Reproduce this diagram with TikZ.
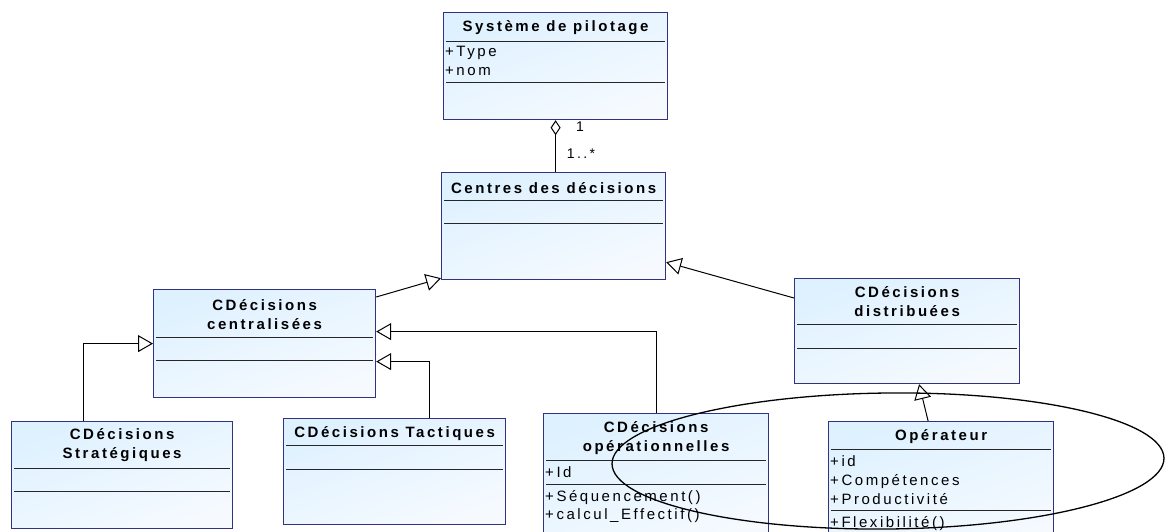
\documentclass[tikz,border=0pt]{standalone}
\usepackage{fontspec}
\setmainfont{Liberation Sans}
\newfontfamily\umlfont{Liberation Sans}[LetterSpace=17]
\usepackage{xcolor}
\usepackage{tikz}
\usetikzlibrary{arrows.meta, positioning, calc}
\definecolor{umlborder}{RGB}{50,50,130}
\definecolor{umltop}{RGB}{222,241,255}
\definecolor{umlbottom}{RGB}{246,250,255}

\begin{document}
\begin{tikzpicture}[x=1pt, y=1pt,
  classbox/.style={draw=umlborder, line width=1.2pt, top color=umltop, bottom color=umlbottom,
    shading angle=20, anchor=north west, inner sep=0pt},
  classname/.style={font=\umlfont\bfseries\fontsize{15}{19}\selectfont, align=center, inner sep=0pt},
  member/.style={font=\umlfont\fontsize{15}{19}\selectfont, anchor=west, inner sep=0pt,
    text height=10pt, text depth=3pt},
  mult/.style={font=\umlfont\fontsize{14}{16}\selectfont, inner sep=0pt},
  sepline/.style={line width=1pt, black!85},
  gen/.style={line width=1pt, -{Triangle[open, length=15pt, width=17pt]}},
  aggr/.style={line width=1pt, {Diamond[open, length=15pt, width=10pt]}-}]
  \useasboundingbox (0,0) rectangle (1165,-531);
  \clip (0,0) rectangle (1165,-531);
  % classes
  \foreach \n/\x/\y/\w/\h in {
    sys/443/12/224/107, centres/441/172/224/107, central/153/289/222/108,
    strat/11/421/221/107, tact/283/418/222/106, oper/543/413/225/130,
    distrib/794/278/225/105, operateur/828/421/225/130} {
    \node[classbox, minimum width=\w pt, minimum height=\h pt] (\n) at (\x,-\y) {};
  }
  \foreach \n/\d/\t in {
    sys/16/{Système de pilotage}, centres/16/{Centres des décisions},
    central/25.5/{CDécisions\\centralisées}, strat/24.5/{CDécisions\\Stratégiques},
    tact/16/{CDécisions Tactiques}, oper/25/{CDécisions\\opérationnelles},
    distrib/24/{CDécisions\\distribuées}, operateur/16/{Opérateur}} {
    \node[classname] (\n-name) at ([yshift=-\d pt]\n.north) {\t};
  }
  \foreach \n/\a/\b in {
    sys/29/70, centres/28/51, central/48/71, strat/47/70,
    tact/27/51, oper/47/71, distrib/46/70, operateur/28/89} {
    \draw[sepline] ([xshift=3pt, yshift=-\a pt]\n.north west) -- ([xshift=-3pt, yshift=-\a pt]\n.north east);
    \draw[sepline] ([xshift=3pt, yshift=-\b pt]\n.north west) -- ([xshift=-3pt, yshift=-\b pt]\n.north east);
  }
  % attributes and operations
  \foreach \n/\d/\t in {
    sys/41/+Type, sys/60/+nom,
    oper/61/+Id, oper/85/+Séquencement(), oper/103/+calcul\_Effectif(),
    operateur/42/+id, operateur/61/+Compétences, operateur/80/+Productivité,
    operateur/103/+Flexibilité()} {
    \node[member] (\n-m\d) at ([xshift=2pt, yshift=-\d pt]\n.north west) {\t};
  }
  % aggregation
  \draw[aggr] (sys.south) -- (sys.south |- centres.north);
  \node[mult] (m-one) at (580,-127) {1};
  \node[mult] (m-many) at (581,-154) {1..*};
  % generalizations
  \draw[gen] ([yshift=-8pt]central.north east) -- ([yshift=2pt]centres.south west);
  \draw[gen] ([yshift=-20pt]distrib.north west) -- ([yshift=18pt]centres.south east);
  \draw[gen] ([xshift=72pt]strat.north west) |- (central.west);
  \draw[gen] ([xshift=146pt]tact.north west) |- ([yshift=-18pt]central.east);
  \draw[gen] (oper.north) |- ([yshift=12pt]central.east);
  \draw[gen] ([xshift=-13pt]operateur.north) -- ([xshift=12pt]distrib.south);
  % hand-drawn ellipse
  \draw[line width=1.3pt, rotate around={0.6:(888,-461)}] (888,-461) ellipse [x radius=276, y radius=68];
\end{tikzpicture}
\end{document}
